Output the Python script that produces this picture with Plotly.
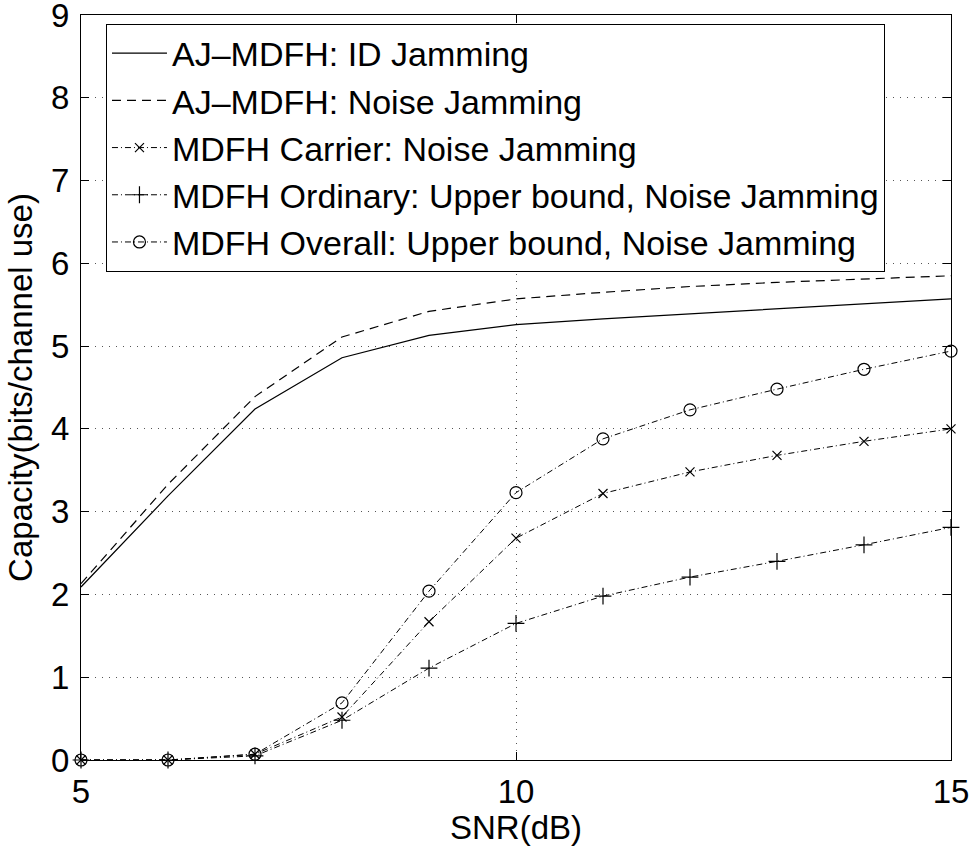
import plotly.graph_objects as go

snr = [5, 6, 7, 8, 9, 10, 11, 12, 13, 14, 15]
aj_id = [2.09, 3.19, 4.24, 4.86, 5.13, 5.26, 5.33, 5.39, 5.45, 5.51, 5.57]
aj_noise = [2.13, 3.33, 4.39, 5.11, 5.42, 5.57, 5.65, 5.72, 5.77, 5.81, 5.85]
carrier = [0.0, 0.0, 0.07, 0.52, 1.67, 2.68, 3.22, 3.48, 3.68, 3.85, 4.0]
ordinary = [0.0, 0.0, 0.05, 0.48, 1.11, 1.65, 1.98, 2.21, 2.40, 2.60, 2.81]
overall = [0.0, 0.0, 0.07, 0.69, 2.04, 3.23, 3.88, 4.23, 4.48, 4.72, 4.94]

names = [
    "AJ\u2013MDFH: ID Jamming",
    "AJ\u2013MDFH: Noise Jamming",
    "MDFH Carrier: Noise Jamming",
    "MDFH Ordinary: Upper bound, Noise Jamming",
    "MDFH Overall: Upper bound, Noise Jamming",
]
x_ticks = [5, 10, 15]
y_ticks = [0, 1, 2, 3, 4, 5, 6, 7, 8, 9]

FONT = "Liberation Sans, Arial, sans-serif"
dashdot = "6px,3px,1px,3px"

fig = go.Figure()
fig.add_trace(go.Scatter(x=snr, y=aj_id, mode="lines", name=names[0],
                         line=dict(color="black", width=1.2)))
fig.add_trace(go.Scatter(x=snr, y=aj_noise, mode="lines", name=names[1],
                         line=dict(color="black", width=1.2, dash="9px,6px")))
fig.add_trace(go.Scatter(x=snr, y=carrier, mode="lines+markers", name=names[2],
                         cliponaxis=False,
                         line=dict(color="black", width=1, dash=dashdot),
                         marker=dict(symbol="x-thin", size=9, color="black",
                                     line=dict(color="black", width=1.2))))
fig.add_trace(go.Scatter(x=snr, y=ordinary, mode="lines+markers", name=names[3],
                         cliponaxis=False,
                         line=dict(color="black", width=1, dash=dashdot),
                         marker=dict(symbol="cross-thin", size=12, color="black",
                                     line=dict(color="black", width=1.2))))
fig.add_trace(go.Scatter(x=snr, y=overall, mode="lines+markers", name=names[4],
                         cliponaxis=False,
                         line=dict(color="black", width=1, dash=dashdot),
                         marker=dict(symbol="circle-open", size=12, color="black",
                                     line=dict(color="black", width=1.2))))

fig.update_layout(
    width=976, height=846,
    margin=dict(l=81, r=25, t=15, b=86),
    paper_bgcolor="white", plot_bgcolor="white",
    font=dict(family=FONT, color="black", size=33),
    showlegend=True,
    legend=dict(x=0.0287, y=0.9885, xanchor="left", yanchor="top",
                bordercolor="black", borderwidth=1, bgcolor="white",
                font=dict(family=FONT, size=34, color="black"),
                itemwidth=55, tracegroupgap=0),
)
fig.update_xaxes(
    range=[5, 15], tickvals=x_ticks, ticktext=[str(v) for v in x_ticks],
    showline=True, linecolor="black", linewidth=1, mirror="ticks",
    ticks="inside", ticklen=8, tickcolor="black",
    showgrid=True, gridcolor="#555", gridwidth=1, griddash="1px,6px",
    zeroline=False, tickfont=dict(size=33), ticklabelstandoff=2,
    ticklabeloverflow="allow", automargin=False,
    title=dict(text="SNR(dB)", font=dict(size=33), standoff=0),
)
fig.update_yaxes(
    range=[0, 9], tickvals=y_ticks, ticktext=[str(v) for v in y_ticks],
    showline=True, linecolor="black", linewidth=1, mirror="ticks",
    ticks="inside", ticklen=8, tickcolor="black",
    showgrid=True, gridcolor="#555", gridwidth=1, griddash="1px,6px",
    zeroline=False, tickfont=dict(size=33), ticklabelstandoff=4,
    ticklabeloverflow="allow", automargin=False,
    title=dict(text="Capacity(bits/channel use)", font=dict(size=33), standoff=8),
)
fig.write_html("out.html", config={"displayModeBar": False},
               post_script="document.body.style.margin='0';")
